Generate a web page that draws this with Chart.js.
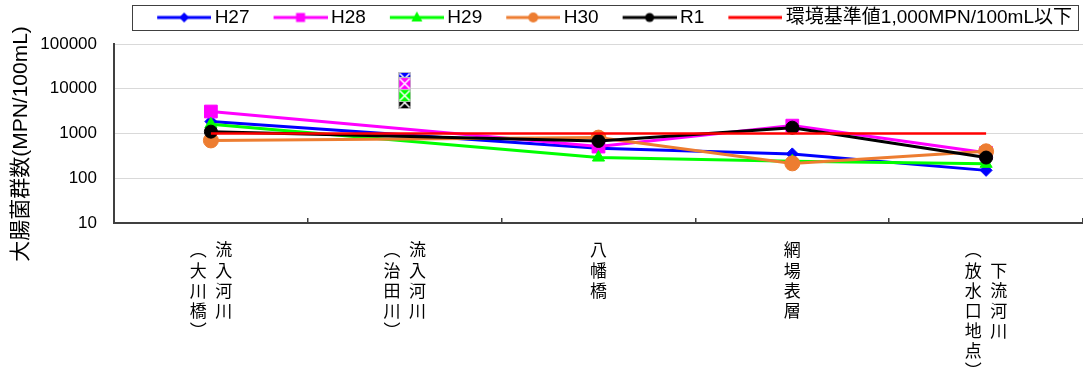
<!DOCTYPE html>
<html>
<head>
<meta charset="utf-8">
<script src="https://cdn.jsdelivr.net/npm/chart.js@4.4.1/dist/chart.umd.min.js"></script>
<style>
  body { margin: 0; background: #fff; }
</style>
</head>
<body>
<canvas id="chart" width="1083" height="372"></canvas>
<script>
// sampling sites: main name (right column) and parenthetical name (left column)
var siteMain = ['流入河川', '流入河川', '八幡橋', '網場表層', '下流河川'];
var siteSub = ['大川橋', '治田川', '', '', '放水口地点'];

var years = ['H27', 'H28', 'H29', 'H30', 'R1'];
var h27 = [1850, null, 470, 350, 150];
var h28 = [3100, null, 510, 1500, 370];
var h29 = [1600, null, 290, 240, 210];
var h30 = [700, null, 810, 215, 400];
var r1 = [1100, null, 680, 1350, 290];

var standardLabel = '環境基準値1,000MPN/100mL以下';
var standard = [1000, 1000, 1000, 1000, 1000];

// values at 流入河川(治田川), drawn as separate boxed markers
var jitaYears = ['H27', 'H28', 'R1', 'H29'];
var jitaValues = [17000, 13000, 4900, 7000];

var yTicks = [10, 100, 1000, 10000, 100000];

var colors = { H27: '#0000FF', H28: '#FF00FF', H29: '#00FF00', H30: '#ED7D31', R1: '#000000' };
var styles = { H27: 'rectRot', H28: 'rect', H29: 'triangle', H30: 'circle', R1: 'circle' };
var radii = { H27: 6, H28: 9, H29: 7, H30: 7.5, R1: 6.5 };

// build vertical (tategaki) label rows: left column is the (sub) name, right column the main name
function verticalLabel(main, sub) {
    if (!sub) return main.split('');
    var left = ['︵'].concat(sub.split(''), ['︶']);
    var right = main.split('');
    var off = Math.floor((left.length - right.length) / 2);
    return left.map(function (c, i) {
        return c + '\u2002' + (right[i - off] || '\u3000');
    });
}
var categories = siteMain.map(function (m, i) { return verticalLabel(m, siteSub[i]); });

// legend icon: line with marker in the middle
function legendIcon(color, style) {
    var c = document.createElement('canvas');
    c.width = 78; c.height = 18;
    var g = c.getContext('2d');
    g.strokeStyle = color;
    g.lineWidth = 3;
    g.beginPath(); g.moveTo(24, 9); g.lineTo(78, 9); g.stroke();
    g.fillStyle = color;
    var cx = 51, cy = 9;
    g.beginPath();
    if (style === 'rectRot') {
        g.moveTo(cx, cy - 5); g.lineTo(cx + 5, cy); g.lineTo(cx, cy + 5); g.lineTo(cx - 5, cy);
    } else if (style === 'rect') {
        g.rect(cx - 4.5, cy - 4.5, 9, 9);
    } else if (style === 'triangle') {
        g.moveTo(cx, cy - 6); g.lineTo(cx + 5.5, cy + 4); g.lineTo(cx - 5.5, cy + 4);
    } else if (style === 'circle') {
        g.arc(cx, cy, color === '#000000' ? 4.5 : 5, 0, Math.PI * 2);
    }
    g.closePath();
    if (style) g.fill();
    return c;
}

// boxed marker with white cross
function crossBox(color) {
    var c = document.createElement('canvas');
    c.width = 13; c.height = 13;
    var g = c.getContext('2d');
    g.fillStyle = color;
    g.fillRect(0, 0, 13, 13);
    g.strokeStyle = '#bfbfbf';
    g.lineWidth = 1;
    g.strokeRect(0.5, 0.5, 12, 12);
    g.strokeStyle = '#ffffff';
    g.lineWidth = 1.5;
    g.beginPath();
    g.moveTo(1.5, 1.5); g.lineTo(11.5, 11.5);
    g.moveTo(11.5, 1.5); g.lineTo(1.5, 11.5);
    g.stroke();
    return c;
}

var series = { H27: h27, H28: h28, H29: h29, H30: h30, R1: r1 };
var datasets = years.map(function (y, i) {
    return {
        label: y,
        data: series[y],
        borderColor: colors[y],
        backgroundColor: colors[y],
        borderWidth: 3,
        pointStyle: styles[y],
        pointRadius: radii[y],
        pointHoverRadius: radii[y],
        pointBorderWidth: 1,
        spanGaps: true,
        tension: 0,
        order: 6 - i,
        legendIcon: legendIcon(colors[y], styles[y])
    };
});
datasets.push({
    label: standardLabel,
    data: standard,
    borderColor: '#FF0000',
    backgroundColor: '#FF0000',
    borderWidth: 2.5,
    pointRadius: 0,
    pointHoverRadius: 0,
    order: 1,
    legendIcon: legendIcon('#FF0000', null)
});
jitaYears.forEach(function (y, i) {
    var d = [null, null, null, null, null];
    d[1] = jitaValues[i];
    datasets.push({
        label: y + ' 治田川',
        data: d,
        showLine: false,
        pointStyle: crossBox(colors[y]),
        pointRadius: 7,
        pointHoverRadius: 7,
        order: 13 - i
    });
});

var legendHeight = {
    id: 'legendHeight',
    beforeInit: function (chart) {
        if (!chart.legend) return;
        var fit = chart.legend.fit;
        chart.legend.fit = function () {
            fit.call(this);
            this.height = 42;
        };
    },
    // pull the legend row a little in from the right edge
    afterLayout: function (chart) {
        if (!chart.legend) return;
        chart.legend.left -= 5;
        chart.legend.right -= 5;
    }
};

// thin frame around the legend row
var legendFrame = {
    id: 'legendFrame',
    afterDraw: function (chart) {
        var hb = chart.legend && chart.legend.legendHitBoxes;
        if (!hb || !hb.length) return;
        var first = hb[0], last = hb[hb.length - 1];
        var left = Math.round(first.left - 7) + 0.5;
        var right = Math.round(last.left + last.width + 6) + 0.5;
        var top = Math.round(first.top - 3) + 0.5;
        var bottom = Math.round(first.top + first.height + 3) + 0.5;
        var ctx = chart.ctx;
        ctx.save();
        ctx.strokeStyle = '#404040';
        ctx.lineWidth = 1;
        ctx.strokeRect(left, top, right - left, bottom - top);
        ctx.restore();
    }
};

var latin = "'Liberation Sans', 'Noto Sans CJK JP', sans-serif";

new Chart(document.getElementById('chart').getContext('2d'), {
    type: 'line',
    data: { labels: categories, datasets: datasets },
    options: {
        responsive: false,
        animation: false,
        layout: { autoPadding: false, padding: { top: 2, right: 0, left: 0, bottom: 0 } },
        plugins: {
            tooltip: { enabled: false },
            legend: {
                position: 'top',
                align: 'end',
                labels: {
                    usePointStyle: true,
                    pointStyleWidth: 66,
                    padding: 6,
                    color: '#000',
                    font: { family: latin, size: 19 },
                    generateLabels: function (chart) {
                        return chart.data.datasets.map(function (ds, i) {
                            return {
                                text: ds.label,
                                pointStyle: ds.legendIcon,
                                datasetIndex: i,
                                hidden: false,
                                lineWidth: 0,
                                strokeStyle: 'rgba(0,0,0,0)',
                                fillStyle: 'rgba(0,0,0,0)',
                                fontColor: '#000'
                            };
                        });
                    },
                    filter: function (item, data) {
                        return !!data.datasets[item.datasetIndex].legendIcon;
                    },
                    sort: function (a, b) { return a.datasetIndex - b.datasetIndex; }
                }
            }
        },
        scales: {
            x: {
                type: 'category',
                offset: true,
                grid: {
                    offset: true,
                    drawOnChartArea: false,
                    drawTicks: true,
                    tickLength: -5,
                    color: '#404040',
                    lineWidth: 1.5
                },
                border: { color: '#404040', width: 2 },
                ticks: {
                    autoSkip: false,
                    maxRotation: 0,
                    minRotation: 0,
                    padding: 22,
                    color: '#000',
                    font: { family: "'Noto Sans CJK JP', sans-serif", size: 17, lineHeight: 1.18 }
                },
                afterFit: function (s) { s.height = 149; }
            },
            y: {
                type: 'logarithmic',
                min: 10,
                max: 100000,
                afterBuildTicks: function (s) {
                    s.ticks = yTicks.map(function (v) { return { value: v, major: true }; });
                },
                ticks: {
                    padding: 17,
                    color: '#000',
                    font: { family: latin, size: 17 },
                    callback: function (v) { return String(v); }
                },
                grid: { color: '#d9d9d9', lineWidth: 1, drawTicks: false },
                border: { color: '#404040', width: 2 },
                title: {
                    display: true,
                    text: '大腸菌群数(MPN/100mL)\u3000',
                    color: '#000',
                    font: { family: latin, size: 21 },
                    padding: { top: 9, bottom: 0 }
                },
                afterFit: function (s) { s.width = 114; }
            }
        }
    },
    plugins: [legendHeight, legendFrame]
});
</script>
</body>
</html>
